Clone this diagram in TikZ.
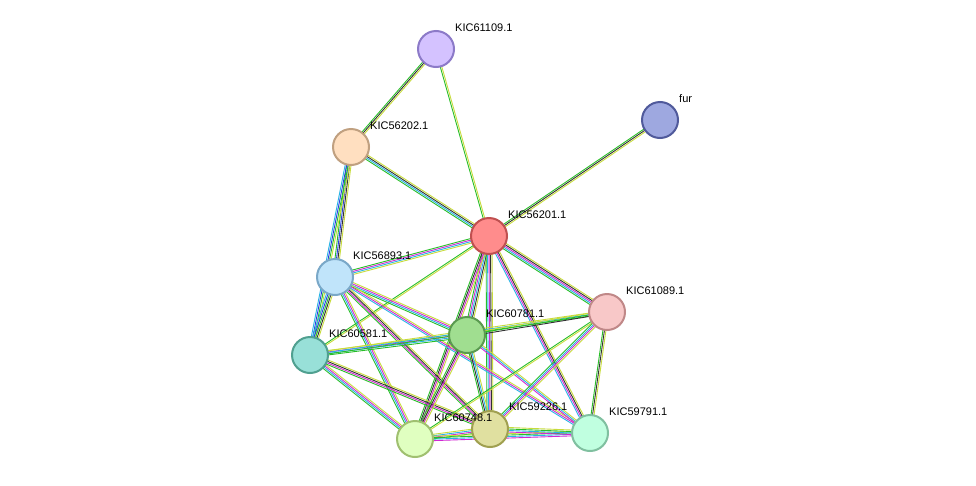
\documentclass[tikz,border=0pt]{standalone}
\usepackage{fontspec}
\setmainfont{Liberation Sans}
\usetikzlibrary{calc}
\definecolor{tm}{RGB}{200,220,60}
\definecolor{cx}{RGB}{50,50,50}
\definecolor{ex}{RGB}{210,40,210}
\definecolor{db}{RGB}{40,180,230}
\definecolor{nb}{RGB}{40,190,40}
\definecolor{co}{RGB}{40,60,230}
\newcommand\ed[4]{\foreach \c [count=\i] in {#4}{\pgfmathsetmacro\o{(\i-(#3+1)/2)*1.5}
 \draw[\c, line width=0.9pt] ($(#1)!\o pt!90:(#2)$) -- ($(#2)!\o pt!-90:(#1)$);}}
\tikzset{pn/.style={circle,minimum size=36pt,inner sep=0pt,line width=2pt},
 lb/.style={anchor=west,font=\fontsize{11}{13}\selectfont,inner sep=0pt}}
\begin{document}
\begin{tikzpicture}[x=1pt,y=-1pt]
\useasboundingbox (0,0) rectangle (976,485);
\fill[white] (0,0) rectangle (976,485);
\coordinate (a) at (436,49);
\coordinate (f) at (660,120);
\coordinate (b) at (351,147);
\coordinate (c) at (489,236);
\coordinate (d) at (335,277);
\coordinate (e) at (607,312);
\coordinate (g) at (467,335);
\coordinate (h) at (310,355);
\coordinate (i) at (415,439);
\coordinate (j) at (490,429);
\coordinate (k) at (590,433);
\ed{a}{b}{3}{nb,cx,tm}
\ed{a}{c}{2}{nb,tm}
\ed{f}{c}{3}{nb,cx,tm}
\ed{b}{c}{4}{nb,db,cx,tm}
\ed{b}{d}{4}{nb,co,cx,tm}
\ed{b}{h}{4}{db,co,nb,tm}
\ed{c}{d}{4}{nb,ex,db,tm}
\ed{c}{h}{2}{nb,tm}
\ed{c}{g}{5}{nb,ex,db,cx,tm}
\ed{c}{e}{5}{nb,db,ex,cx,tm}
\ed{c}{i}{4}{nb,cx,ex,tm}
\ed{c}{j}{5}{nb,db,ex,cx,tm}
\ed{c}{k}{4}{db,ex,cx,tm}
\ed{d}{h}{5}{db,co,nb,cx,tm}
\ed{d}{g}{4}{nb,db,ex,tm}
\ed{d}{i}{4}{nb,db,ex,tm}
\ed{d}{j}{4}{nb,ex,cx,tm}
\ed{d}{k}{3}{db,ex,tm}
\ed{h}{g}{4}{nb,db,ex,tm}
\ed{h}{i}{4}{nb,db,ex,tm}
\ed{h}{j}{4}{nb,ex,cx,tm}
\ed{h}{e}{3}{nb,db,tm}
\ed{g}{e}{3}{cx,nb,tm}
\ed{g}{i}{4}{nb,cx,ex,tm}
\ed{g}{j}{4}{nb,cx,db,tm}
\ed{g}{k}{3}{ex,db,tm}
\ed{e}{i}{2}{nb,tm}
\ed{e}{j}{4}{nb,db,ex,tm}
\ed{e}{k}{3}{nb,cx,tm}
\ed{i}{j}{4}{nb,ex,db,tm}
\ed{i}{k}{4}{ex,db,nb,tm}
\ed{j}{k}{4}{ex,db,nb,tm}
\node[pn,fill={rgb,255:red,212;green,194;blue,255},draw={rgb,255:red,140;green,122;blue,200}] (na) at (a) {};
\node[pn,fill={rgb,255:red,158;green,168;blue,224},draw={rgb,255:red,80;green,90;blue,155}] (nf) at (f) {};
\node[pn,fill={rgb,255:red,255;green,223;blue,192},draw={rgb,255:red,192;green,160;blue,128}] (nb) at (b) {};
\node[pn,fill={rgb,255:red,255;green,140;blue,140},draw={rgb,255:red,192;green,80;blue,80}] (nc) at (c) {};
\node[pn,fill={rgb,255:red,192;green,228;blue,250},draw={rgb,255:red,122;green,168;blue,200}] (nd) at (d) {};
\node[pn,fill={rgb,255:red,248;green,200;blue,200},draw={rgb,255:red,192;green,136;blue,136}] (ne) at (e) {};
\node[pn,fill={rgb,255:red,160;green,222;blue,144},draw={rgb,255:red,90;green,154;blue,80}] (ng) at (g) {};
\node[pn,fill={rgb,255:red,152;green,224;blue,216},draw={rgb,255:red,80;green,160;blue,144}] (nh) at (h) {};
\node[pn,fill={rgb,255:red,224;green,255;blue,192},draw={rgb,255:red,160;green,192;blue,112}] (ni) at (i) {};
\node[pn,fill={rgb,255:red,224;green,224;blue,160},draw={rgb,255:red,160;green,160;blue,80}] (nj) at (j) {};
\node[pn,fill={rgb,255:red,192;green,255;blue,224},draw={rgb,255:red,128;green,192;blue,160}] (nk) at (k) {};
\node[lb] (la) at (455,28) {KIC61109.1};
\node[lb] (lf) at (679,99) {fur};
\node[lb] (lb) at (370,126) {KIC56202.1};
\node[lb] (lc) at (508,215) {KIC56201.1};
\node[lb] (ld) at (353,256) {KIC56893.1};
\node[lb] (le) at (626,291) {KIC61089.1};
\node[lb] (lg) at (486,314) {KIC60781.1};
\node[lb] (lh) at (329,334) {KIC60581.1};
\node[lb] (li) at (434,418) {KIC60748.1};
\node[lb] (lj) at (509,407) {KIC59226.1};
\node[lb] (lk) at (609,412) {KIC59791.1};
\end{tikzpicture}
\end{document}
